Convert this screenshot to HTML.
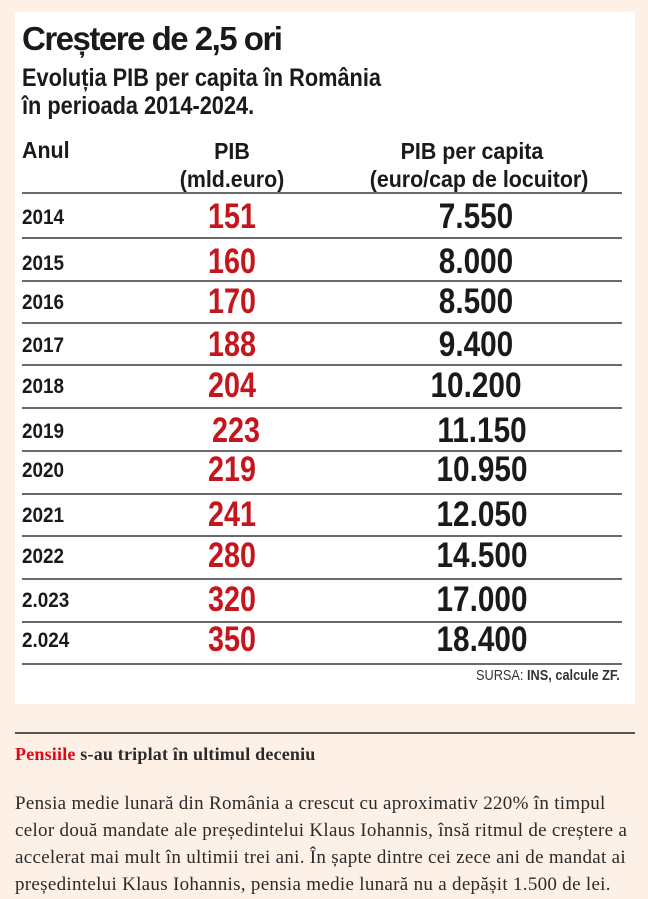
<!DOCTYPE html>
<html><head><meta charset="utf-8"><style>
html,body{margin:0;padding:0;}
body{width:648px;height:899px;background:#fdf0e7;position:relative;overflow:hidden;font-family:"Liberation Sans",sans-serif;}
.card{position:absolute;left:15px;top:12px;width:620px;height:692px;background:#fff;}
.a{position:absolute;white-space:nowrap;color:#1a1a1a;font-weight:bold;}
.t{left:22px;top:20px;font-size:33px;letter-spacing:-1.5px;}
.s{left:22px;font-size:25px;transform:scaleX(0.87);transform-origin:left;}
.h{font-size:23px;text-align:center;transform:scaleX(0.93);}
.ln{position:absolute;left:22px;width:600px;height:2px;background:#6a6a6a;}
.y{left:22px;font-size:21px;transform:scaleX(0.9);transform-origin:left;}
.r{color:#c4161c;font-size:35px;text-align:center;width:100px;transform:scaleX(0.82);}
.v{font-size:35px;text-align:center;width:200px;transform:scaleX(0.85);}
.p{position:absolute;left:15px;font-family:"Liberation Serif",serif;font-size:19px;letter-spacing:0.3px;color:#2a2a2a;white-space:nowrap;}
</style></head><body>
<div class="card"></div>
<div class="a t">Creștere de 2,5 ori</div>
<div class="a s" style="top:64px">Evoluția PIB per capita în România</div>
<div class="a s" style="top:92px">în perioada 2014-2024.</div>
<div class="a h" style="left:22px;top:137px;text-align:left;transform-origin:left">Anul</div>
<div class="a h" style="left:172px;top:137px;width:120px;line-height:28px">PIB<br>(mld.euro)</div>
<div class="a h" style="left:362px;top:137px;width:220px;line-height:28px">PIB per capita<br>(euro/cap de locuitor)</div>
<div class="ln" style="top:192px"></div>
<div class="ln" style="top:237px"></div>
<div class="ln" style="top:280px"></div>
<div class="ln" style="top:322px"></div>
<div class="ln" style="top:364px"></div>
<div class="ln" style="top:407px"></div>
<div class="ln" style="top:450px"></div>
<div class="ln" style="top:493px"></div>
<div class="ln" style="top:535px"></div>
<div class="ln" style="top:578px"></div>
<div class="ln" style="top:621px"></div>
<div class="ln" style="top:663px"></div>
<div class="a y" style="top:206px">2014</div><div class="a r" style="left:182px;top:197px">151</div><div class="a v" style="left:376px;top:197px">7.550</div>
<div class="a y" style="top:252px">2015</div><div class="a r" style="left:182px;top:242px">160</div><div class="a v" style="left:376px;top:242px">8.000</div>
<div class="a y" style="top:291px">2016</div><div class="a r" style="left:182px;top:282px">170</div><div class="a v" style="left:376px;top:282px">8.500</div>
<div class="a y" style="top:334px">2017</div><div class="a r" style="left:182px;top:325px">188</div><div class="a v" style="left:376px;top:325px">9.400</div>
<div class="a y" style="top:375px">2018</div><div class="a r" style="left:182px;top:366px">204</div><div class="a v" style="left:376px;top:366px">10.200</div>
<div class="a y" style="top:420px">2019</div><div class="a r" style="left:186px;top:411px">223</div><div class="a v" style="left:382px;top:411px">11.150</div>
<div class="a y" style="top:459px">2020</div><div class="a r" style="left:182px;top:450px">219</div><div class="a v" style="left:382px;top:450px">10.950</div>
<div class="a y" style="top:504px">2021</div><div class="a r" style="left:182px;top:495px">241</div><div class="a v" style="left:382px;top:495px">12.050</div>
<div class="a y" style="top:545px">2022</div><div class="a r" style="left:182px;top:536px">280</div><div class="a v" style="left:382px;top:536px">14.500</div>
<div class="a y" style="top:589px">2.023</div><div class="a r" style="left:182px;top:580px">320</div><div class="a v" style="left:382px;top:580px">17.000</div>
<div class="a y" style="top:629px">2.024</div><div class="a r" style="left:182px;top:620px">350</div><div class="a v" style="left:382px;top:620px">18.400</div>
<div class="a" style="left:476px;top:667px;font-size:15px;font-weight:normal;color:#333;transform:scaleX(0.85);transform-origin:left">SURSA: <b>INS, calcule ZF.</b></div>
<div style="position:absolute;left:15px;top:732px;width:620px;height:2px;background:#555"></div>
<div class="p" style="top:744px;font-size:18px;letter-spacing:0.2px;font-weight:bold"><span style="color:#e30613">Pensiile</span> s-au triplat în ultimul deceniu</div>
<div class="p" style="top:793px">Pensia medie lunară din România a crescut cu aproximativ 220% în timpul</div>
<div class="p" style="top:820px">celor două mandate ale președintelui Klaus Iohannis, însă ritmul de creștere a</div>
<div class="p" style="top:847px">accelerat mai mult în ultimii trei ani. În șapte dintre cei zece ani de mandat ai</div>
<div class="p" style="top:874px">președintelui Klaus Iohannis, pensia medie lunară nu a depășit 1.500 de lei.</div>
</body></html>
